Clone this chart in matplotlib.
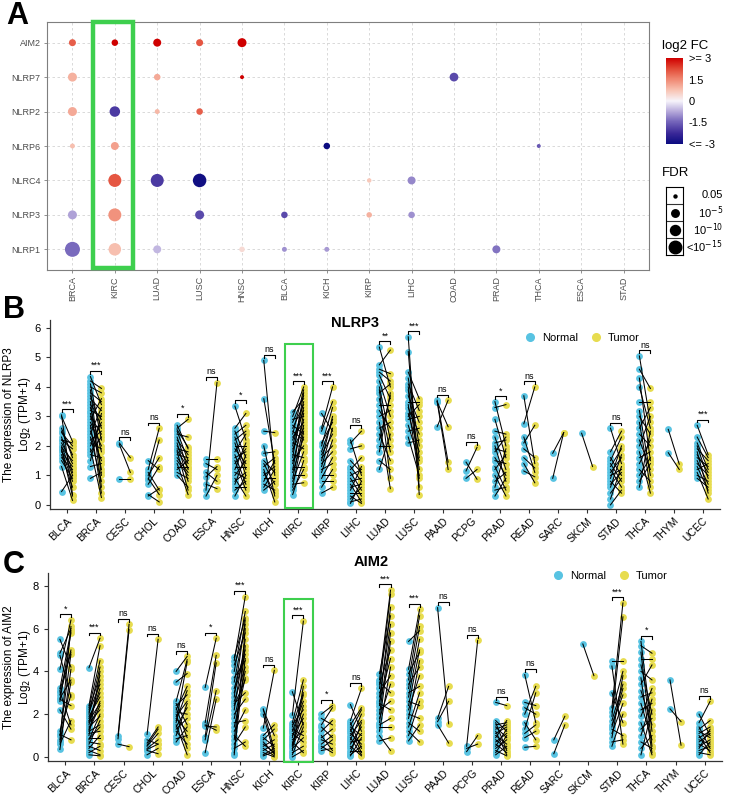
import matplotlib
matplotlib.use("Agg")
import matplotlib.pyplot as plt
import matplotlib.colors as mcolors
import matplotlib.transforms as mtransforms
from matplotlib.patches import Rectangle
from matplotlib.lines import Line2D
import numpy as np

plt.rcParams['font.family'] = ['Liberation Sans', 'DejaVu Sans']

# ---------------- panel A data ----------------
genes_a = ["NLRP1", "NLRP3", "NLRC4", "NLRP6", "NLRP2", "NLRP7", "AIM2"]
cancers_a = ["BRCA", "KIRC", "LUAD", "LUSC", "HNSC", "BLCA", "KICH", "KIRP",
             "LIHC", "COAD", "PRAD", "THCA", "ESCA", "STAD"]
dot_gene = ["AIM2"] * 5 + ["NLRP7"] * 4 + ["NLRP2"] * 4 + ["NLRP6"] * 4 + \
           ["NLRC4"] * 5 + ["NLRP3"] * 6 + ["NLRP1"] * 7
dot_cancer = ["BRCA", "KIRC", "LUAD", "LUSC", "HNSC",
              "BRCA", "LUAD", "HNSC", "COAD",
              "BRCA", "KIRC", "LUAD", "LUSC",
              "BRCA", "KIRC", "KICH", "THCA",
              "KIRC", "LUAD", "LUSC", "KIRP", "LIHC",
              "BRCA", "KIRC", "LUSC", "BLCA", "KIRP", "LIHC",
              "BRCA", "KIRC", "LUAD", "HNSC", "BLCA", "KICH", "PRAD"]
dot_fc = [2.0, 3.2, 3.1, 2.1, 3.0,
          1.0, 1.1, 3.0, -1.8,
          1.1, -2.0, 0.9, 2.0,
          0.8, 1.2, -3.2, -1.6,
          2.1, -2.0, -2.9, 0.7, -1.1,
          -0.8, 1.4, -1.8, -1.8, 1.0, -1.0,
          -1.4, 0.8, -0.6, 0.4, -1.0, -0.9, -1.3]
dot_fdr = [4.6, 4.2, 6.0, 4.6, 8.0,          # -log10(FDR)
           8.0, 4.2, 2.1, 7.5,
           8.0, 11.0, 2.9, 4.2,
           2.9, 6.0, 4.2, 2.1,
           17.0, 17.0, 19.0, 2.5, 6.0,
           8.0, 17.0, 8.0, 4.2, 3.4, 4.2,
           25.0, 15.0, 6.0, 3.4, 2.9, 2.9, 6.0]
fdr_keys = [1.3, 5, 10, 15]
fdr_labels = ["0.05", "10$^{-5}$", "10$^{-10}$", "<10$^{-15}$"]

# ---------------- panels B / C data ----------------
cancers_b = ["BLCA", "BRCA", "CESC", "CHOL", "COAD", "ESCA", "HNSC", "KICH",
             "KIRC", "KIRP", "LIHC", "LUAD", "LUSC", "PAAD", "PCPG", "PRAD",
             "READ", "SARC", "SKCM", "STAD", "THCA", "THYM", "UCEC"]

nlrp3_normal = {
    "BLCA": [3.05, 3.0, 2.6, 2.45, 2.3, 2.2, 2.1, 2.0, 1.95, 1.85, 1.8, 1.7, 1.6, 1.5, 1.3, 2.5, 1.9, 0.45, 2.2],
    "BRCA": [4.35, 4.2, 4.1, 4.0, 3.9, 3.8, 3.7, 3.6, 3.5, 3.4, 3.3, 3.2, 3.1, 3.0, 2.9, 2.8, 2.7, 2.6, 2.5,
             2.4, 2.3, 2.2, 2.1, 2.0, 1.9, 1.8, 1.7, 1.5, 1.3, 0.9],
    "CESC": [2.1, 2.05, 0.88],
    "CHOL": [1.5, 1.2, 1.0, 0.9, 0.85, 0.7, 0.35, 0.3, 1.1],
    "COAD": [2.7, 2.6, 2.5, 2.4, 2.3, 2.2, 2.1, 2.0, 1.9, 1.8, 1.7, 1.6, 1.5, 1.4, 1.3, 1.2, 1.1, 1.0, 2.55, 1.85],
    "ESCA": [0.5, 1.55, 1.4, 1.1, 0.7, 0.3, 0.95],
    "HNSC": [3.35, 2.6, 2.5, 2.4, 2.3, 2.2, 2.1, 2.0, 1.9, 1.8, 1.7, 1.6, 1.5, 1.4, 1.3, 1.2, 1.1, 1.0, 0.9,
             0.8, 0.7, 0.6, 0.5, 0.3],
    "KICH": [4.9, 3.6, 2.5, 2.0, 1.75, 1.5, 1.4, 1.3, 1.2, 1.0, 0.9, 0.8, 0.7, 0.6, 0.5, 1.1],
    "KIRC": [3.15, 3.0, 2.9, 2.8, 2.7, 2.6, 2.5, 2.4, 2.3, 2.2, 2.1, 2.0, 1.9, 1.8, 1.7, 1.6, 1.5, 1.4, 1.3,
             1.2, 1.1, 1.0, 0.9, 0.8, 0.7, 0.6, 0.5, 0.35],
    "KIRP": [3.1, 2.6, 2.5, 2.0, 1.8, 1.6, 1.5, 1.4, 1.3, 1.2, 1.1, 1.0, 0.9, 0.8, 0.6, 0.4, 1.7, 2.1],
    "LIHC": [2.2, 2.1, 1.9, 1.3, 1.2, 1.1, 1.0, 0.9, 0.8, 0.7, 0.6, 0.5, 0.4, 0.3, 0.2, 0.1, 0.05, 1.5],
    "LUAD": [5.35, 4.75, 4.6, 4.4, 4.2, 4.0, 3.8, 3.6, 3.4, 3.2, 3.0, 2.8, 2.6, 2.4, 2.2, 2.0, 1.8, 1.5, 1.2, 3.9, 4.5],
    "LUSC": [5.7, 5.2, 4.5, 4.3, 4.1, 3.9, 3.7, 3.5, 3.3, 3.1, 2.9, 2.7, 2.5, 2.3, 2.1, 3.0, 3.4, 4.0],
    "PAAD": [3.55, 3.5, 2.65, 3.5],
    "PCPG": [1.45, 1.15, 0.9],
    "PRAD": [3.5, 3.3, 2.9, 2.5, 2.3, 2.1, 2.0, 1.9, 1.8, 1.6, 1.5, 1.3, 1.2, 1.0, 0.8, 0.6, 0.5, 0.3],
    "READ": [3.7, 2.75, 2.3, 2.1, 1.9, 1.6, 1.4, 1.15],
    "SARC": [1.75, 0.9],
    "SKCM": [2.43],
    "STAD": [2.6, 1.8, 1.6, 1.5, 1.4, 1.3, 1.2, 1.1, 1.0, 0.9, 0.8, 0.7, 0.6, 0.4, 0.2, 0.0],
    "THCA": [5.05, 4.6, 4.3, 4.0, 3.5, 3.2, 3.0, 2.8, 2.6, 2.4, 2.2, 2.0, 1.8, 1.6, 1.4, 1.2, 1.0, 0.8, 0.6],
    "THYM": [2.56, 1.77],
    "UCEC": [2.7, 2.3, 2.1, 2.0, 1.9, 1.8, 1.7, 1.6, 1.5, 1.4, 1.3, 1.2, 1.1, 1.0, 0.9],
}
nlrp3_tumor = {
    "BLCA": [0.35, 2.15, 1.6, 2.0, 1.1, 1.9, 1.4, 1.0, 1.5, 0.8, 1.3, 0.6, 1.2, 0.9, 0.15, 1.7, 0.3, 1.0, 2.1],
    "BRCA": [3.4, 3.95, 2.2, 3.8, 1.0, 3.5, 2.6, 3.2, 0.6, 2.9, 1.8, 3.0, 1.2, 2.4, 3.6, 2.0, 0.4, 2.7, 1.5,
             3.3, 0.8, 2.5, 1.9, 2.8, 0.25, 2.3, 1.6, 3.1, 1.4, 1.1],
    "CESC": [1.6, 1.1, 0.88],
    "CHOL": [1.2, 2.6, 1.6, 0.35, 2.2, 1.3, 0.1, 0.55, 0.5],
    "COAD": [1.9, 2.9, 1.5, 2.3, 1.2, 1.7, 0.8, 1.4, 1.8, 0.5, 1.6, 1.1, 1.0, 0.35, 1.3, 1.5, 0.9, 0.6, 1.95, 1.25],
    "ESCA": [4.15, 1.55, 1.2, 0.8, 0.55, 1.0, 1.3],
    "HNSC": [2.2, 3.1, 1.6, 2.7, 1.2, 2.5, 1.0, 2.0, 1.4, 2.4, 0.7, 1.8, 0.5, 1.9, 1.3, 2.1, 0.9, 1.5, 0.3,
             1.1, 1.7, 0.6, 0.8, 1.0],
    "KICH": [1.0, 1.4, 2.45, 0.3, 1.8, 1.1, 0.7, 1.6, 0.1, 1.3, 0.9, 1.5, 0.5, 1.2, 0.8, 0.4],
    "KIRC": [3.6, 4.0, 3.0, 3.7, 2.4, 3.4, 2.2, 3.9, 2.8, 3.2, 1.9, 3.5, 2.6, 3.3, 1.6, 3.8, 2.0, 2.9, 1.3,
             3.1, 2.3, 1.0, 2.7, 1.8, 0.75, 2.5, 1.2, 1.5],
    "KIRP": [2.5, 4.0, 3.5, 3.3, 2.9, 2.0, 3.0, 1.8, 2.6, 1.4, 2.2, 1.0, 1.6, 0.8, 1.2, 0.6, 2.4, 2.8],
    "LIHC": [1.0, 2.5, 2.0, 0.8, 1.6, 0.5, 1.2, 0.3, 0.9, 0.1, 0.7, 1.3, 0.4, 0.05, 0.6, 0.2, 0.8, 1.1],
    "LUAD": [4.0, 5.25, 4.45, 3.6, 3.0, 2.2, 4.1, 1.8, 3.4, 2.6, 3.2, 0.55, 2.8, 1.5, 3.7, 2.0, 3.8, 1.2, 2.4, 0.9, 4.2],
    "LUSC": [0.35, 0.6, 3.6, 2.0, 3.2, 1.2, 2.8, 3.5, 2.4, 1.8, 3.0, 1.5, 2.6, 1.0, 2.2, 3.4, 0.9, 1.6],
    "PAAD": [1.45, 1.2, 3.55, 2.65],
    "PCPG": [0.87, 1.95, 1.2],
    "PRAD": [2.0, 3.4, 1.6, 2.4, 1.2, 2.2, 0.8, 1.8, 2.3, 1.0, 1.4, 0.5, 1.7, 0.3, 1.1, 1.9, 0.6, 0.9],
    "READ": [1.4, 4.0, 1.1, 2.7, 1.6, 1.25, 0.75, 0.95],
    "SARC": [2.45, 2.45],
    "SKCM": [1.3],
    "STAD": [1.4, 2.5, 1.0, 2.3, 0.8, 1.9, 0.6, 1.6, 1.2, 2.0, 0.4, 1.1, 1.7, 0.9, 1.3, 0.5],
    "THCA": [2.8, 3.95, 1.5, 2.6, 3.5, 1.0, 2.4, 0.6, 3.3, 2.0, 1.2, 3.0, 0.4, 1.8, 2.2, 0.8, 1.6, 1.4, 2.5],
    "THYM": [1.38, 1.2],
    "UCEC": [1.7, 1.6, 1.2, 0.9, 1.5, 0.4, 1.1, 1.3, 0.7, 1.0, 0.5, 1.4, 0.2, 0.8, 0.6],
}
nlrp3_sig = ["***", "***", "ns", "ns", "*", "ns", "*", "ns", "***", "***", "ns", "**",
             "***", "ns", "ns", "*", "ns", "", "", "ns", "ns", "", "***"]

aim2_normal = {
    "BLCA": [5.5, 4.85, 4.75, 4.1, 3.2, 3.05, 2.9, 2.75, 2.6, 2.2, 1.2, 1.05, 0.8, 0.6, 0.35, 3.1, 2.7, 1.0, 0.7],
    "BRCA": [4.17, 2.4, 2.3, 2.2, 2.1, 2.0, 1.9, 1.8, 1.7, 1.6, 1.5, 1.4, 1.3, 1.2, 1.1, 1.0, 0.9, 0.8, 0.7,
             0.6, 0.5, 0.4, 0.3, 0.2, 0.1, 1.25, 0.85, 1.65],
    "CESC": [1.0, 0.85, 0.6],
    "CHOL": [1.05, 0.65, 0.55, 0.5, 0.4, 0.35, 0.1, 0.8, 0.3],
    "COAD": [4.0, 3.5, 2.6, 2.5, 2.4, 2.3, 2.2, 2.1, 2.0, 1.9, 1.8, 1.7, 1.6, 1.5, 1.4, 1.3, 1.2, 1.0, 0.85, 0.7],
    "ESCA": [3.25, 1.6, 1.45, 0.95, 0.8, 0.2, 1.5],
    "HNSC": [4.65, 4.5, 4.3, 4.0, 3.7, 3.5, 3.2, 3.0, 2.8, 2.6, 2.4, 2.2, 2.0, 1.8, 1.6, 1.4, 1.2, 1.0, 0.8,
             0.6, 0.4, 0.2, 0.1, 2.5],
    "KICH": [2.25, 2.2, 2.0, 1.35, 1.0, 0.9, 0.8, 0.6, 0.5, 0.4, 0.3, 0.2, 0.1, 0.05, 0.7],
    "KIRC": [3.05, 1.95, 1.6, 1.5, 1.4, 1.3, 1.2, 1.1, 1.0, 0.9, 0.8, 0.7, 0.6, 0.5, 0.4, 0.3, 0.2, 0.1, 0.0, 0.55],
    "KIRP": [2.0, 1.8, 1.5, 1.4, 1.2, 1.0, 0.9, 0.8, 0.6, 0.5, 0.4, 0.3],
    "LIHC": [2.45, 1.7, 1.6, 1.5, 1.4, 1.3, 1.2, 1.1, 1.0, 0.9, 0.8, 0.7, 0.6, 0.5, 0.4, 0.3, 0.2, 0.1, 0.05],
    "LUAD": [3.9, 3.6, 3.4, 3.2, 3.0, 2.8, 2.6, 2.4, 2.2, 2.0, 1.8, 1.6, 1.4, 1.2, 1.0, 0.75, 3.5, 2.5, 1.5],
    "LUSC": [5.4, 4.1, 3.9, 3.6, 3.4, 3.2, 3.0, 2.8, 2.6, 2.4, 2.2, 2.0, 1.8, 1.6, 1.4, 1.2, 1.0, 0.75],
    "PAAD": [6.98, 1.8, 1.65, 1.5],
    "PCPG": [0.5, 0.25, 0.4],
    "PRAD": [2.55, 1.7, 1.6, 1.5, 1.4, 1.3, 1.2, 1.1, 1.0, 0.9, 0.8, 0.7, 0.6, 0.5, 0.4, 0.3, 0.2, 0.1],
    "READ": [3.85, 2.55, 2.0, 1.6, 1.3, 0.9, 0.45, 2.3, 1.1],
    "SARC": [0.8, 0.15],
    "SKCM": [5.28],
    "STAD": [4.5, 4.25, 2.3, 2.1, 1.9, 1.7, 1.5, 1.3, 1.1, 0.9, 0.7, 0.5, 3.0, 1.4],
    "THCA": [5.4, 5.2, 4.9, 4.6, 4.3, 4.0, 3.7, 3.4, 3.1, 2.8, 2.5, 2.2, 1.9, 1.6, 1.3, 1.0, 0.7, 0.4, 0.1],
    "THYM": [3.6, 2.25],
    "UCEC": [2.0, 1.6, 1.4, 1.3, 1.2, 1.1, 1.0, 0.9, 0.8, 0.7, 0.6, 0.5, 0.4, 0.3, 0.2, 0.1],
}
aim2_tumor = {
    "BLCA": [4.2, 6.0, 2.8, 6.4, 5.9, 1.5, 4.9, 3.6, 5.8, 1.3, 2.9, 0.8, 6.1, 1.7, 4.1, 5.0, 2.4, 4.8, 3.5],
    "BRCA": [5.55, 5.2, 4.5, 3.8, 3.4, 4.2, 2.8, 3.0, 2.5, 2.2, 3.6, 1.9, 2.6, 1.5, 1.2, 4.0, 0.9, 2.0, 0.6,
             1.7, 0.3, 1.0, 0.1, 0.5, 0.05, 2.4, 1.4, 3.2],
    "CESC": [6.2, 5.95, 0.48],
    "CHOL": [5.5, 1.4, 1.3, 1.1, 0.8, 0.6, 0.4, 0.6, 0.15],
    "COAD": [4.7, 3.9, 4.55, 1.5, 2.9, 0.9, 3.3, 2.0, 0.4, 2.6, 1.2, 3.1, 4.45, 0.1, 2.3, 1.8, 0.6, 2.5, 1.0, 1.4],
    "ESCA": [5.55, 4.75, 1.4, 4.4, 3.1, 2.7, 1.25],
    "HNSC": [6.5, 7.5, 5.8, 6.8, 4.5, 6.2, 5.0, 4.8, 6.4, 4.2, 3.6, 5.5, 2.7, 4.0, 1.7, 3.7, 2.2, 0.5, 5.2,
             1.4, 0.7, 4.6, 6.0, 3.0],
    "KICH": [0.3, 1.0, 0.1, 4.05, 1.5, 0.5, 1.3, 0.2, 0.8, 0.05, 0.6, 0.0, 0.4, 0.25, 0.15],
    "KIRC": [1.5, 6.35, 3.6, 2.2, 3.0, 1.0, 2.6, 0.7, 1.8, 2.9, 1.2, 0.2, 2.4, 1.6, 0.9, 3.3, 0.5, 1.4, 0.3, 2.0],
    "KIRP": [2.4, 1.5, 2.3, 0.9, 1.7, 0.3, 1.3, 0.6, 1.0, 0.2, 0.8, 0.4],
    "LIHC": [1.2, 3.2, 0.4, 2.3, 1.0, 0.2, 2.2, 0.6, 1.7, 0.1, 2.0, 0.8, 1.4, 0.05, 1.1, 0.3, 1.6, 0.5, 0.9],
    "LUAD": [6.6, 7.8, 5.0, 7.6, 3.8, 6.2, 4.6, 7.0, 2.6, 5.8, 3.4, 5.4, 1.4, 4.2, 0.3, 0.9, 3.0, 2.2, 1.8],
    "LUSC": [5.9, 6.9, 4.9, 6.6, 4.2, 6.1, 3.3, 5.5, 2.4, 5.0, 3.8, 1.8, 4.5, 1.2, 3.0, 0.7, 2.6, 1.5],
    "PAAD": [1.55, 3.3, 2.6, 0.65],
    "PCPG": [5.45, 1.0, 0.6],
    "PRAD": [2.4, 1.2, 0.3, 1.6, 0.9, 1.5, 0.1, 1.4, 0.6, 1.7, 0.4, 1.1, 0.2, 1.3, 0.8, 0.05, 1.0, 0.5],
    "READ": [1.6, 2.4, 3.3, 0.8, 3.0, 1.2, 0.5, 2.0, 1.5],
    "SARC": [1.9, 1.5],
    "SKCM": [3.8],
    "STAD": [4.5, 0.6, 7.2, 4.0, 6.55, 3.4, 2.9, 1.0, 2.5, 3.8, 0.8, 2.0, 1.6, 3.2],
    "THCA": [1.2, 4.85, 0.5, 4.6, 2.0, 3.6, 0.2, 4.3, 1.5, 3.0, 0.8, 2.5, 3.2, 0.1, 1.8, 2.7, 0.4, 1.0, 2.2],
    "THYM": [0.55, 1.65],
    "UCEC": [1.0, 2.6, 0.4, 1.7, 0.9, 1.4, 0.2, 1.2, 0.6, 1.1, 0.3, 0.8, 1.3, 0.5, 0.1, 0.7],
}
aim2_sig = ["*", "***", "ns", "ns", "ns", "*", "***", "ns", "***", "*", "ns", "***",
            "***", "ns", "ns", "ns", "ns", "", "", "***", "*", "", "ns"]

NORMAL_C = "#58c3e2"
TUMOR_C = "#e7dc4f"
GREEN = "#3ecf4e"

W, H = 731, 796
fig = plt.figure(figsize=(W / 100, H / 100), dpi=100)


def rect(l, t, r, b):
    return [l / W, 1 - b / H, (r - l) / W, (b - t) / H]


def fdr_size(v):
    d = np.interp(v, [1.3, 5, 10, 15, 25], [3, 7.5, 10, 12.5, 15])
    return (d * 0.72) ** 2


cmap = mcolors.LinearSegmentedColormap.from_list(
    "fc", [(0.0, "#0b0b80"), (0.125, "#3a2898"), (0.25, "#7060b8"), (0.375, "#b5a8da"),
           (0.5, "#f6f4fb"), (0.625, "#f8c4b4"), (0.75, "#f08a74"), (0.875, "#e24a36"),
           (1.0, "#cf0000")])
norm = mcolors.Normalize(-3, 3)

# ---------------- panel A ----------------
axA = fig.add_axes(rect(47, 22, 649, 270))
xa = [cancers_a.index(c) for c in dot_cancer]
ya = [genes_a.index(g) for g in dot_gene]
axA.scatter(xa, ya, s=fdr_size(np.array(dot_fdr)), c=np.clip(dot_fc, -3, 3),
            cmap=cmap, norm=norm, linewidths=0, zorder=3)
axA.set_xlim(-0.6, len(cancers_a) - 0.4)
axA.set_ylim(-0.6, len(genes_a) - 0.4)
axA.set_xticks(range(len(cancers_a)))
axA.set_xticklabels(cancers_a, rotation=90, fontsize=6.5, color="#4d4d4d")
axA.set_yticks(range(len(genes_a)))
axA.set_yticklabels(genes_a, fontsize=6.5, color="#4d4d4d")
axA.tick_params(length=2.5, width=0.6, color="#7f7f7f", pad=2)
axA.grid(True, color="#d3d3d3", linestyle=(0, (3, 3)), linewidth=0.6)
axA.set_axisbelow(True)
for sp in axA.spines.values():
    sp.set_color("#7f7f7f")
    sp.set_linewidth(0.8)
tA = mtransforms.blended_transform_factory(axA.transData, axA.transAxes)
axA.add_patch(Rectangle((0.49, 0.008), 0.94, 0.99, transform=tA, fill=False,
                        edgecolor=GREEN, linewidth=3.2, clip_on=False, zorder=5))

# colour legend
cax = fig.add_axes(rect(666, 58, 683, 144))
cb = fig.colorbar(plt.cm.ScalarMappable(norm=norm, cmap=cmap), cax=cax)
cb.outline.set_visible(False)
cb.set_ticks([3, 1.5, 0, -1.5, -3])
cb.set_ticklabels([">= 3", "1.5", "0", "-1.5", "<= -3"])
cax.tick_params(length=0, labelsize=8, pad=4)
fig.text(662 / W, 1 - 46 / H, "log2 FC", fontsize=9.5, va="center")

# size legend
sax = fig.add_axes(rect(666, 187, 683, 255))
sax.set_xlim(0, 1)
sax.set_ylim(0, len(fdr_keys))
for i, v in enumerate(fdr_keys):
    yy = len(fdr_keys) - i - 0.5
    sax.scatter([0.5], [yy], s=fdr_size(v), color="black", zorder=3)
    sax.text(3.35, yy, fdr_labels[i], fontsize=8, ha="right", va="center",
             transform=mtransforms.blended_transform_factory(sax.transAxes, sax.transData))
    if i > 0:
        sax.axhline(yy + 0.5, color="#333333", lw=0.8)
sax.set_xticks([])
sax.set_yticks([])
for sp in sax.spines.values():
    sp.set_linewidth(0.8)
fig.text(662 / W, 1 - 173 / H, "FDR", fontsize=9.5, va="center")

fig.text(6 / W, 1 - 16 / H, "A", fontsize=22, fontweight="bold", va="center")


# ---------------- panels B / C ----------------
def paired_panel(ax, normal, tumor, sig, ylim, yticks, gene, label_x):
    off = 0.19
    span = ylim[1] - ylim[0]
    for i, c in enumerate(cancers_b):
        n = normal[c]
        t = tumor[c]
        ax.scatter([i - off] * len(n), n, s=24, color=NORMAL_C, linewidths=0, zorder=2)
        ax.scatter([i + off] * len(t), t, s=24, color=TUMOR_C, linewidths=0, zorder=2)
        for a, b in zip(n, t):
            ax.plot([i - off, i + off], [a, b], color="black", lw=0.75, zorder=3)
        if sig[i]:
            top = max(max(n), max(t)) + 0.03 * span
            ax.plot([i - off, i - off, i + off, i + off],
                    [top - 0.015 * span, top, top, top - 0.015 * span],
                    color="black", lw=0.8, zorder=4)
            ax.text(i, top + 0.004 * span, sig[i], ha="center", va="bottom",
                    fontsize=6.5, zorder=4)
    ax.set_xlim(-0.6, len(cancers_b) - 0.4)
    ax.set_ylim(*ylim)
    ax.set_yticks(yticks)
    ax.tick_params(axis="y", labelsize=8, length=3, width=0.8, color="#333333")
    ax.set_xticks(range(len(cancers_b)))
    ax.set_xticklabels(cancers_b, rotation=45, ha="right", rotation_mode="anchor", fontsize=7.5)
    ax.tick_params(axis="x", length=3, width=0.8, color="#333333", pad=2)
    for s in ["top", "right"]:
        ax.spines[s].set_visible(False)
    for s in ["left", "bottom"]:
        ax.spines[s].set_linewidth(0.9)
        ax.spines[s].set_color("#333333")
    ax.set_ylabel("The expression of %s\nLog$_2$ (TPM+1)" % gene, fontsize=8.5,
                  linespacing=1.15)
    ax.yaxis.set_label_coords(label_x, 0.5)
    h = [Line2D([], [], marker="o", ls="", color=NORMAL_C, markersize=5.5),
         Line2D([], [], marker="o", ls="", color=TUMOR_C, markersize=5.5)]
    return h


axB = fig.add_axes(rect(49.7, 320, 720, 509))
hB = paired_panel(axB, nlrp3_normal, nlrp3_tumor, nlrp3_sig, (-0.14, 6.27), range(0, 7), "NLRP3",
                  (33 - 49.7) / 670.3)
axB.legend(hB, ["Normal", "Tumor"], loc="center", bbox_to_anchor=(0.79, 0.905), ncol=2,
           frameon=False, fontsize=8, handletextpad=0.05, columnspacing=0.6, borderaxespad=0)
axB.add_patch(Rectangle((7.54, -0.1), 0.97, 5.55, fill=False, edgecolor=GREEN,
                        linewidth=1.5, clip_on=False, zorder=5))
fig.text(355 / W, 1 - 323 / H, "NLRP3", fontsize=10.5, fontweight="bold", ha="center", va="center")
fig.text(3 / W, 1 - 310 / H, "B", fontsize=22, fontweight="bold", va="center")

axC = fig.add_axes(rect(48, 573, 722, 761))
hC = paired_panel(axC, aim2_normal, aim2_tumor, aim2_sig, (-0.19, 8.6), range(0, 9, 2), "AIM2",
                  (33 - 48) / 674)
axC.legend(hC, ["Normal", "Tumor"], loc="center", bbox_to_anchor=(0.83, 0.984), ncol=2,
           frameon=False, fontsize=8, handletextpad=0.05, columnspacing=0.6, borderaxespad=0)
axC.add_patch(Rectangle((7.53, -0.22), 1.0, 7.62, fill=False, edgecolor=GREEN,
                        linewidth=1.5, clip_on=False, zorder=5))
fig.text(371 / W, 1 - 562 / H, "AIM2", fontsize=10.5, fontweight="bold", ha="center", va="center")
fig.text(3 / W, 1 - 565 / H, "C", fontsize=22, fontweight="bold", va="center")

fig.savefig("out.png", dpi=100)
